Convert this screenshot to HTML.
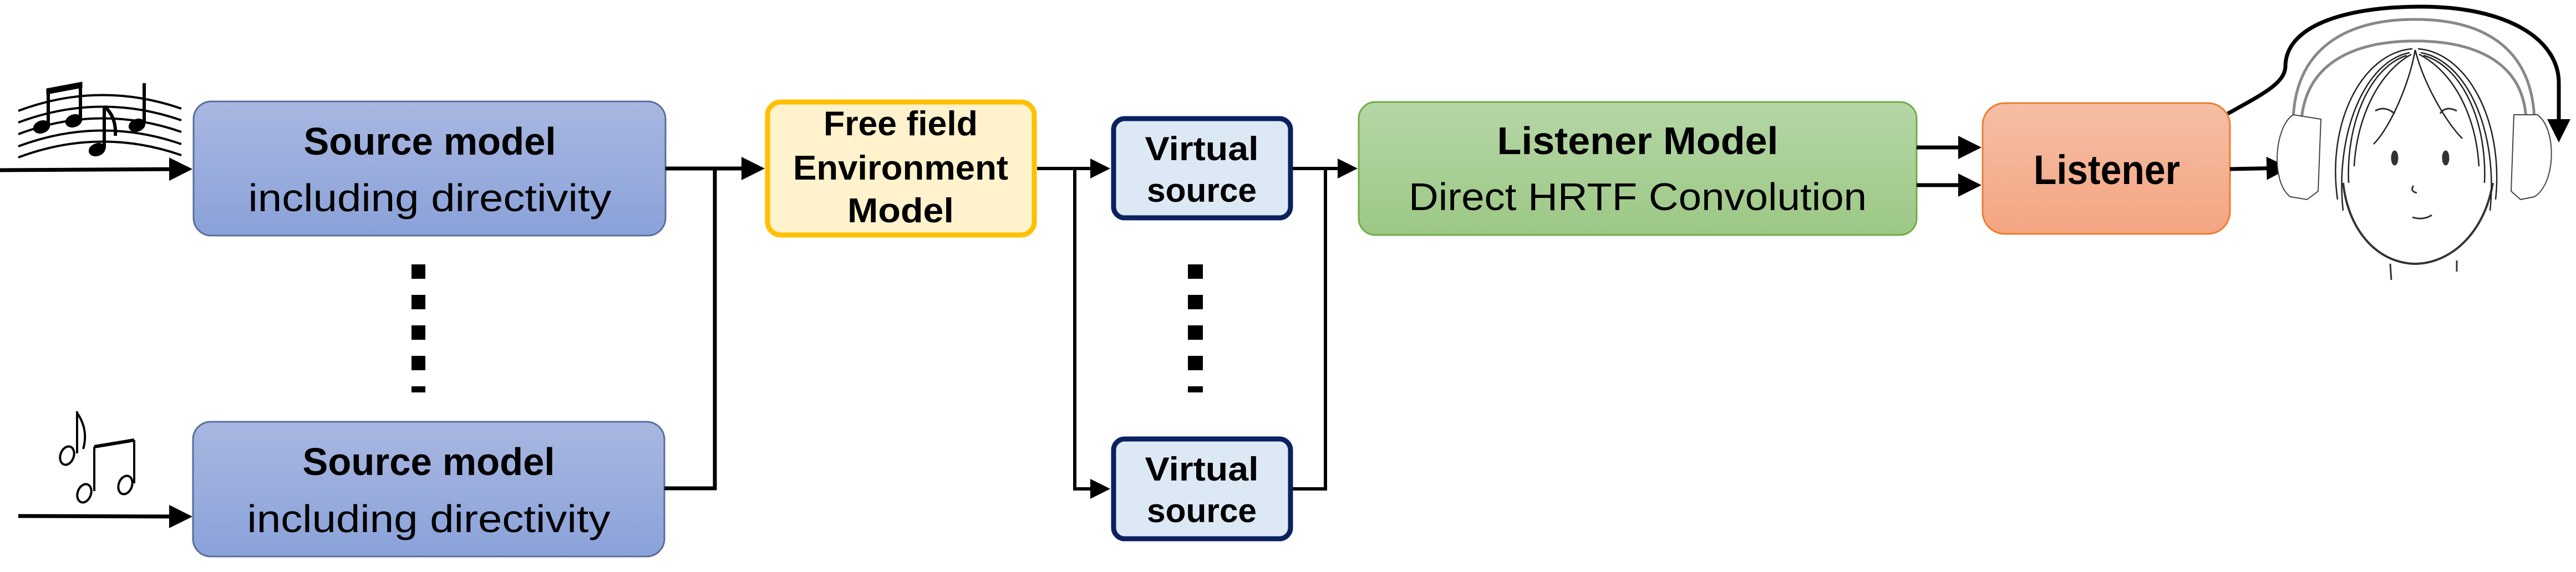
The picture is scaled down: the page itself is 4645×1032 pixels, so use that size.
<!DOCTYPE html>
<html><head><meta charset="utf-8"><style>
html,body{margin:0;padding:0;background:#fff;}
svg{display:block;}
text{font-family:"Liberation Sans",sans-serif;fill:#000;}
</style></head><body>
<svg width="4645" height="1032" viewBox="0 0 4645 1032" xmlns="http://www.w3.org/2000/svg">
<defs>
<linearGradient id="gb" x1="0" y1="0" x2="0" y2="1"><stop offset="0" stop-color="#a9b7e1"/><stop offset="1" stop-color="#8aa2d9"/></linearGradient>
<linearGradient id="gg" x1="0" y1="0" x2="0" y2="1"><stop offset="0" stop-color="#b6d6a6"/><stop offset="1" stop-color="#9cc885"/></linearGradient>
<linearGradient id="go" x1="0" y1="0" x2="0" y2="1"><stop offset="0" stop-color="#f5bfa5"/><stop offset="1" stop-color="#f4a582"/></linearGradient>
<marker id="ah" markerWidth="6" markerHeight="6" refX="5" refY="3" orient="auto" markerUnits="strokeWidth"><path d="M0,0 L6,3 L0,6 z" fill="#000"/></marker>
</defs>

<!-- music icon 1 -->
<g fill="none" stroke="#000" stroke-width="4">
<path d="M33,200 Q180,145 327,196"/>
<path d="M33,221 Q180,166 327,217"/>
<path d="M33,242 Q180,187 327,238"/>
<path d="M33,264 Q180,209 327,260"/>
<path d="M33,284 Q180,229 327,280"/>
</g>
<g fill="#000" stroke="#000">
<ellipse cx="75" cy="229" rx="15" ry="11" transform="rotate(-20 75 229)"/>
<ellipse cx="133" cy="218" rx="15" ry="11" transform="rotate(-20 133 218)"/>
<ellipse cx="175" cy="270" rx="15" ry="11" transform="rotate(-20 175 270)"/>
<ellipse cx="247" cy="226" rx="15" ry="11" transform="rotate(-20 247 226)"/>
<line x1="87" y1="226" x2="87" y2="163" stroke-width="6"/>
<line x1="145" y1="215" x2="145" y2="150" stroke-width="6"/>
<path d="M84,160 L148,148 L148,158 L84,170 z"/>
<line x1="188" y1="268" x2="188" y2="192" stroke-width="6"/>
<path d="M188,192 Q210,210 208,245" fill="none" stroke-width="6"/>
<line x1="260" y1="222" x2="260" y2="150" stroke-width="6"/>
</g>
<line x1="0" y1="307" x2="340" y2="305" stroke="#000" stroke-width="7" marker-end="url(#ah)"/>

<!-- music icon 2 -->
<g fill="none" stroke="#000" stroke-width="4">
<ellipse cx="121" cy="822" rx="12" ry="17" transform="rotate(20 121 822)"/>
<line x1="139" y1="742" x2="139" y2="818"/>
<path d="M139,745 Q160,775 150,810"/>
<ellipse cx="152" cy="890" rx="12" ry="17" transform="rotate(20 152 890)"/>
<ellipse cx="226" cy="875" rx="12" ry="17" transform="rotate(20 226 875)"/>
<line x1="170" y1="886" x2="170" y2="806"/>
<line x1="242" y1="872" x2="242" y2="794"/>
<path d="M170,806 L242,794" stroke-width="6"/>
</g>
<line x1="33" y1="931" x2="340" y2="932" stroke="#000" stroke-width="7" marker-end="url(#ah)"/>

<!-- source boxes -->
<rect x="349" y="183" width="851" height="242" rx="32" fill="url(#gb)" stroke="#5a6d9c" stroke-width="3"/>
<text x="775" y="279" text-anchor="middle" font-size="70" font-weight="bold" textLength="455" lengthAdjust="spacingAndGlyphs">Source model</text>
<text x="775" y="381" text-anchor="middle" font-size="70" textLength="655" lengthAdjust="spacingAndGlyphs">including directivity</text>
<rect x="348" y="761" width="850" height="243" rx="32" fill="url(#gb)" stroke="#5a6d9c" stroke-width="3"/>
<text x="773" y="857" text-anchor="middle" font-size="70" font-weight="bold" textLength="455" lengthAdjust="spacingAndGlyphs">Source model</text>
<text x="773" y="960" text-anchor="middle" font-size="70" textLength="655" lengthAdjust="spacingAndGlyphs">including directivity</text>

<!-- dots -->
<g fill="#000">
<rect x="742" y="477" width="25" height="26"/><rect x="742" y="532" width="25" height="26"/><rect x="742" y="587" width="25" height="26"/><rect x="742" y="642" width="25" height="26"/><rect x="742" y="697" width="25" height="11"/>
<rect x="2142" y="477" width="27" height="26"/><rect x="2142" y="532" width="27" height="26"/><rect x="2142" y="587" width="27" height="26"/><rect x="2142" y="642" width="27" height="26"/><rect x="2142" y="697" width="27" height="11"/>
</g>

<!-- connectors source -> free field -->
<g stroke="#000" stroke-width="7" fill="none">
<path d="M1200,304 L1289,304 L1289,881 L1198,881"/>
<line x1="1289" y1="304" x2="1372" y2="304" marker-end="url(#ah)"/>
</g>

<!-- free field -->
<rect x="1384" y="184" width="481" height="240" rx="24" fill="#fff2cc" stroke="#ffc000" stroke-width="9"/>
<text x="1624" y="244" text-anchor="middle" font-size="62" font-weight="bold" textLength="278" lengthAdjust="spacingAndGlyphs">Free field</text>
<text x="1624" y="324" text-anchor="middle" font-size="62" font-weight="bold" textLength="388" lengthAdjust="spacingAndGlyphs">Environment</text>
<text x="1624" y="401" text-anchor="middle" font-size="62" font-weight="bold" textLength="192" lengthAdjust="spacingAndGlyphs">Model</text>

<!-- free field -> virtual sources -->
<g stroke="#000" stroke-width="6" fill="none">
<line x1="1870" y1="304" x2="1996" y2="304" marker-end="url(#ah)"/>
<path d="M1938,304 L1938,882 L1996,882" marker-end="url(#ah)"/>
<path d="M2331,304 L2390,304 L2390,882 L2331,882"/>
<line x1="2390" y1="304" x2="2442" y2="304" marker-end="url(#ah)"/>
</g>

<!-- virtual sources -->
<rect x="2008" y="214" width="319" height="179" rx="20" fill="#dde8f5" stroke="#0b2160" stroke-width="9"/>
<text x="2167" y="289" text-anchor="middle" font-size="60" font-weight="bold" textLength="205" lengthAdjust="spacingAndGlyphs">Virtual</text>
<text x="2167" y="364" text-anchor="middle" font-size="60" font-weight="bold" textLength="198" lengthAdjust="spacingAndGlyphs">source</text>
<rect x="2008" y="792" width="319" height="180" rx="20" fill="#dde8f5" stroke="#0b2160" stroke-width="9"/>
<text x="2167" y="867" text-anchor="middle" font-size="60" font-weight="bold" textLength="205" lengthAdjust="spacingAndGlyphs">Virtual</text>
<text x="2167" y="942" text-anchor="middle" font-size="60" font-weight="bold" textLength="198" lengthAdjust="spacingAndGlyphs">source</text>

<!-- listener model -->
<rect x="2450" y="184" width="1006" height="240" rx="30" fill="url(#gg)" stroke="#70ad47" stroke-width="3"/>
<text x="2953" y="278" text-anchor="middle" font-size="70" font-weight="bold" textLength="507" lengthAdjust="spacingAndGlyphs">Listener Model</text>
<text x="2953" y="379" text-anchor="middle" font-size="70" textLength="826" lengthAdjust="spacingAndGlyphs">Direct HRTF  Convolution</text>

<g stroke="#000" stroke-width="7" fill="none">
<line x1="3456" y1="266" x2="3566" y2="266" marker-end="url(#ah)"/>
<line x1="3456" y1="334" x2="3566" y2="334" marker-end="url(#ah)"/>
</g>

<!-- listener -->
<rect x="3575" y="186" width="446" height="236" rx="40" fill="url(#go)" stroke="#ed7d31" stroke-width="3"/>
<text x="3799" y="332" text-anchor="middle" font-size="74" font-weight="bold" textLength="264" lengthAdjust="spacingAndGlyphs">Listener</text>

<line x1="4021" y1="305" x2="4122" y2="303" stroke="#000" stroke-width="7" marker-end="url(#ah)"/>

<!-- face -->
<g fill="none" stroke="#333" stroke-width="3">
<path d="M4225,330 C4235,420 4290,475 4355,476 C4420,475 4480,420 4495,330" stroke-width="4"/>
<path d="M4310,476 L4312,505 M4430,470 L4430,490" />
<path d="M4283,200 Q4300,190 4318,205 M4400,205 Q4410,190 4430,200"/>
<ellipse cx="4318" cy="285" rx="5" ry="12" fill="#333"/>
<ellipse cx="4410" cy="285" rx="5" ry="12" fill="#333"/>
<path d="M4352,335 Q4345,345 4358,348"/>
<path d="M4350,392 Q4370,398 4385,388"/>
</g>
<g fill="none" stroke="#222" stroke-width="2.5">
<path d="M4215,360 C4195,220 4260,95 4350,88"/>
<path d="M4225,380 C4210,240 4265,110 4345,95"/>
<path d="M4235,330 C4230,220 4275,120 4340,100"/>
<path d="M4245,300 C4250,210 4290,130 4348,98"/>
<path d="M4500,360 C4515,220 4450,95 4360,88"/>
<path d="M4490,380 C4505,240 4450,110 4365,95"/>
<path d="M4480,330 C4485,220 4440,120 4370,100"/>
<path d="M4470,300 C4465,210 4425,130 4362,98"/>
<path d="M4355,90 C4345,150 4310,230 4280,260"/>
<path d="M4355,90 C4370,150 4410,220 4440,250"/>
</g>
<g fill="none" stroke="#888" stroke-width="5">
<path d="M4135,215 C4140,80 4240,35 4355,35 C4470,35 4565,80 4570,215"/>
<path d="M4150,215 C4160,110 4250,74 4355,74 C4460,74 4550,110 4555,215"/>
</g>
<g fill="#fff" stroke="#444" stroke-width="2">
<path d="M4135,207 C4100,230 4095,330 4130,355 L4160,360 L4180,345 L4185,215 z"/>
<path d="M4533,207 L4528,345 L4545,360 L4570,355 C4610,330 4610,230 4575,207 z"/>
</g>

<!-- curved arrow -->
<path d="M4017,205 C4080,170 4120,150 4121,120 C4121,50 4220,12 4366,12 C4520,12 4614,70 4614,150 L4614,250" fill="none" stroke="#000" stroke-width="7" marker-end="url(#ah)"/>
</svg>
</body></html>
